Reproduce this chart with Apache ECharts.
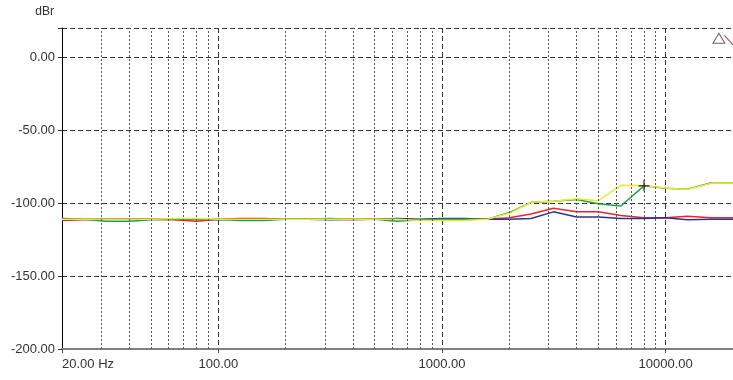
<!DOCTYPE html>
<html>
<head>
<meta charset="utf-8">
<script src="https://cdn.jsdelivr.net/npm/echarts@6/dist/echarts.min.js"></script>
<style>
  html, body { margin: 0; padding: 0; background: #fff; }
  #chart { width: 733px; height: 380px; }
</style>
</head>
<body>
<div id="chart"></div>
<script>
// third-octave frequencies (Hz)
const freqs = [20, 25, 31.5, 40, 50, 63, 80, 100, 125, 160, 200, 250, 315, 400, 500, 630,
  800, 1000, 1250, 1600, 2000, 2500, 3150, 4000, 5000, 6300, 8000, 10000, 12500, 16000, 20000];

const redVals = [-112, -111.5, -111, -111, -111, -111.5, -112.5, -111, -110.5, -110.5, -111, -111,
  -111, -111.5, -111, -111, -111.5, -111, -111, -111, -110, -107.5, -103.5, -106, -106, -108.5,
  -110, -110, -109, -110, -110];
const blueVals = [-110.5, -111, -111, -111, -111, -111, -111, -111.5, -111, -111, -111, -111,
  -111.5, -111, -111, -110.5, -111, -110.5, -110.5, -111, -111, -110.5, -106, -109.5, -109.5,
  -110.5, -110.5, -110, -111.5, -111, -111];
const greenVals = [-111, -111, -112.5, -112.5, -111.5, -111, -111, -111, -112, -112, -111, -111,
  -110.5, -111, -111, -112.5, -111.5, -111, -111, -111, -106.5, -99.5, -98.7, -97.6, -100.5,
  -102, -88.2, -89.8, -90.5, -86, -86];
const yellowVals = [-111, -111, -111, -111, -111, -110.5, -110.5, -111, -111, -111, -111, -111,
  -111, -111, -111, -111, -112, -112, -112, -111, -107, -99.5, -98.8, -97, -98.4, -87.8, -88,
  -89.6, -90.7, -86.3, -86.3];

// minor vertical grid lines (Hz)
const minorFreqs = [30, 40, 50, 60, 70, 80, 90, 200, 300, 400, 500, 600, 700, 800, 900,
  2000, 3000, 4000, 5000, 6000, 7000, 8000, 9000];

const yTicks = [-200, -150, -100, -50, 0];

const font = 'Liberation Sans, Arial, sans-serif';

function pairs(vals) {
  return freqs.map((f, i) => [f, vals[i]]);
}

let dom = document.getElementById('chart');
let myChart = echarts.init(dom, null, { renderer: 'canvas' });

let option = {
  animation: false,
  backgroundColor: '#fff',
  grid: { left: 62, right: 0, top: 28, bottom: 31 },
  xAxis: {
    type: 'log',
    logBase: 10,
    min: 20,
    max: 20000,
    axisLine: { show: true, onZero: false, lineStyle: { color: '#808080', width: 2 } },
    axisTick: { show: true, length: 4, lineStyle: { color: '#555' } },
    axisLabel: {
      color: '#333',
      fontFamily: font,
      fontSize: 13,
      margin: 9,
      showMaxLabel: false,
      alignMinLabel: 'left',
      formatter: function (v) {
        if (Math.abs(v - 20) < 0.01) return '20.00 Hz';
        if (v > 19000) return '';
        return v.toFixed(2);
      }
    },
    splitLine: { show: true, lineStyle: { color: '#333', type: [5, 3], width: 1 } }
  },
  yAxis: {
    type: 'value',
    min: -200,
    max: 20,
    interval: 50,
    name: 'dBr',
    nameLocation: 'end',
    nameGap: 10,
    nameTextStyle: { color: '#333', fontFamily: font, fontSize: 12, align: 'right', padding: [0, 8, 0, 0] },
    axisLine: { show: true, onZero: false, lineStyle: { color: '#000', width: 1 } },
    axisTick: { show: true, length: 4, lineStyle: { color: '#333' } },
    axisLabel: {
      color: '#333',
      fontFamily: font,
      fontSize: 13,
      margin: 7,
      formatter: function (v) {
        return yTicks.indexOf(v) >= 0 ? v.toFixed(2) : '';
      }
    },
    splitLine: { show: true, lineStyle: { color: '#333', type: [5, 3], width: 1 } }
  },
  series: [
    {
      name: 'grid',
      type: 'line',
      data: [],
      silent: true,
      markLine: {
        silent: true,
        symbol: 'none',
        label: { show: false },
        lineStyle: { color: '#555', type: [2, 2], width: 1 },
        data: minorFreqs.map(f => ({ xAxis: f }))
      }
    },
    {
      name: 'red', type: 'line', data: pairs(redVals), showSymbol: false,
      lineStyle: { color: '#e8262a', width: 1.5 }, itemStyle: { color: '#e8262a' }
    },
    {
      name: 'blue', type: 'line', data: pairs(blueVals), showSymbol: false,
      lineStyle: { color: '#2e3192', width: 1.5 }, itemStyle: { color: '#2e3192' }
    },
    {
      name: 'green', type: 'line', data: pairs(greenVals), showSymbol: false,
      lineStyle: { color: '#1da24a', width: 1.5 }, itemStyle: { color: '#1da24a' },
      markPoint: {
        silent: true,
        symbol: 'path://M4.5,0h1v10h-1zM0,4.5h10v1h-10z',
        symbolSize: 11,
        itemStyle: { color: '#222' },
        label: { show: false },
        data: [{ coord: [8000, -88.2] }]
      }
    },
    {
      name: 'yellow', type: 'line', data: pairs(yellowVals), showSymbol: false,
      lineStyle: { color: '#f2e632', width: 1.5 }, itemStyle: { color: '#f2e632' }
    },
    {
      name: 'cursor', type: 'line', data: [[18300, 15], [20000, 8.5]], showSymbol: false,
      lineStyle: { color: '#b0507a', width: 1.2 }
    },
    {
      name: 'marker', type: 'scatter', data: [[17300, 13]],
      symbol: 'triangle', symbolSize: [12, 10],
      itemStyle: { color: '#fff', borderColor: '#444', borderWidth: 1 }
    }
  ]
};

if (option && typeof option === 'object') {
  myChart.setOption(option);
}

window.addEventListener('resize', myChart.resize);
</script>
</body>
</html>
